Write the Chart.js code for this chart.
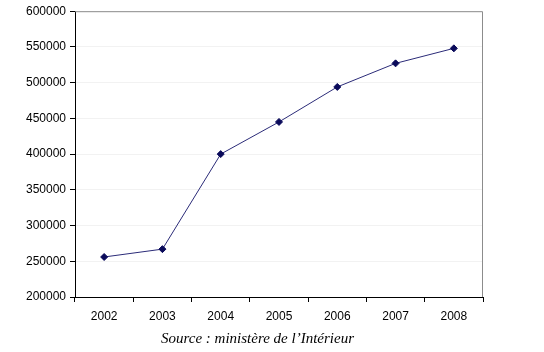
<!DOCTYPE html>
<html>
<head>
<meta charset="utf-8">
<script src="https://cdn.jsdelivr.net/npm/chart.js@4.4.1/dist/chart.umd.min.js"></script>
<style>
  html, body { margin: 0; padding: 0; background: #fff; }
  .wrap { position: relative; width: 544px; height: 352px; }
  canvas { display: block; }
  #source {
    position: absolute; left: 0; top: 331px; width: 515px;
    text-align: center; font: italic 15px/15px 'Liberation Serif', serif; color: #000;
  }
</style>
</head>
<body>
<div class="wrap">
  <canvas id="myChart" width="544" height="352"></canvas>
  <div id="source"></div>
</div>
<script>
// données
const years = ['2002', '2003', '2004', '2005', '2006', '2007', '2008'];
const values = [256000, 267000, 400000, 445000, 494000, 527000, 548000];
const yMin = 200000;
const yMax = 600000;
const yStep = 50000;
const sourceText = 'Source : ministère de l\u2019Intérieur';

document.getElementById('source').textContent = sourceText;

// cadre gris en haut et à droite de la zone de tracé
const frame = {
    id: 'frame',
    beforeDatasetsDraw(chart) {
        const a = chart.chartArea;
        const ctx = chart.ctx;
        ctx.save();
        ctx.strokeStyle = '#8c8c8c';
        ctx.lineWidth = 1;
        ctx.beginPath();
        ctx.moveTo(a.left, a.top + 0.5);
        ctx.lineTo(a.right - 0.5, a.top + 0.5);
        ctx.lineTo(a.right - 0.5, a.bottom);
        ctx.stroke();
        ctx.restore();
    }
};

var ctx = document.getElementById('myChart').getContext('2d');

var myChart = new Chart(ctx, {
    type: 'line',
    data: {
        labels: years,
        datasets: [{
            data: values,
            borderColor: '#2b2b78',
            borderWidth: 1,
            backgroundColor: '#0a0a5a',
            pointBackgroundColor: '#0a0a5a',
            pointBorderColor: '#0a0a5a',
            pointStyle: 'rectRot',
            pointRadius: 3.5,
            pointBorderWidth: 1,
            tension: 0
        }]
    },
    plugins: [frame],
    options: {
        responsive: false,
        animation: false,
        layout: {
            padding: { left: 0, right: 61, top: 11, bottom: 27 }
        },
        plugins: {
            legend: { display: false },
            tooltip: { enabled: false },
            title: { display: false }
        },
        scales: {
            x: {
                offset: true,
                grid: {
                    offset: true,
                    drawOnChartArea: false,
                    drawTicks: true,
                    tickLength: 5,
                    tickColor: '#000'
                },
                border: { color: '#000', width: 1 },
                ticks: {
                    color: '#000',
                    padding: 7,
                    maxRotation: 0,
                    font: { family: 'Liberation Sans', size: 12 }
                },
                afterFit(scale) { scale.height = 28; }
            },
            y: {
                min: yMin,
                max: yMax,
                grid: {
                    color: '#f2f2f2',
                    tickLength: 5,
                    tickColor: '#000'
                },
                border: { color: '#000', width: 1 },
                ticks: {
                    stepSize: yStep,
                    color: '#000',
                    padding: 4,
                    font: { family: 'Liberation Sans', size: 12 },
                    callback: function (v) { return String(v); }
                },
                afterFit(scale) { scale.width = 75; }
            }
        }
    }
});
</script>
</body>
</html>
